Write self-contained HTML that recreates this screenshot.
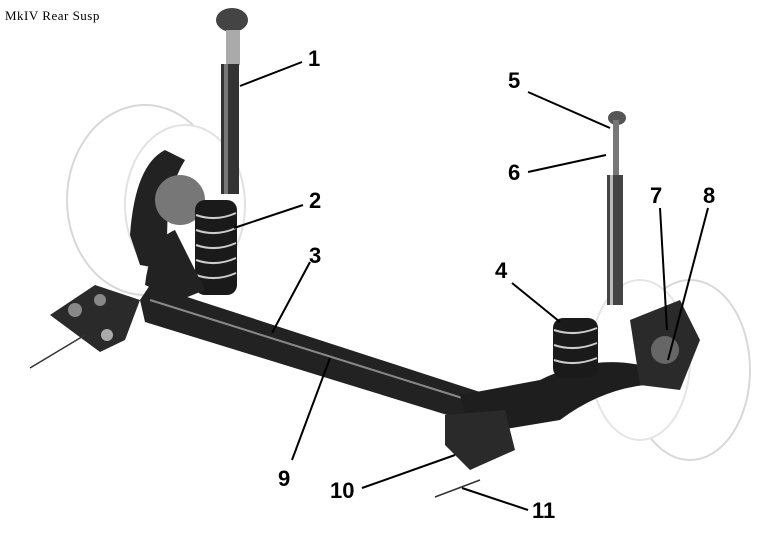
<!DOCTYPE html>
<html><head><style>
body{margin:0;background:#fff;width:769px;height:552px;overflow:hidden}
svg{display:block}
.n{font-family:"Liberation Sans",sans-serif;font-weight:bold;font-size:22px;fill:#000}
</style></head><body>
<svg width="769" height="552" viewBox="0 0 769 552">
<text x="5" y="20" font-family="Liberation Serif" font-size="13" fill="#000" letter-spacing="0.5">MkIV Rear Susp</text>
<!-- wheels -->
<ellipse cx="145" cy="200" rx="78" ry="95" fill="#fff" stroke="#d8d8d8" stroke-width="2"/>
<ellipse cx="185" cy="205" rx="60" ry="80" fill="#fff" stroke="#e2e2e2" stroke-width="2"/>
<ellipse cx="690" cy="370" rx="60" ry="90" fill="#fff" stroke="#d8d8d8" stroke-width="2"/>
<ellipse cx="640" cy="360" rx="50" ry="80" fill="#fff" stroke="#e5e5e5" stroke-width="2"/>
<!-- left hub/backplate -->
<path d="M130,235 Q135,165 165,150 L185,160 Q160,200 170,270 L140,265 Z" fill="#222"/>
<ellipse cx="180" cy="200" rx="25" ry="25" fill="#777"/>
<!-- left shock -->
<ellipse cx="232" cy="20" rx="16" ry="12" fill="#444"/>
<rect x="226" y="30" width="14" height="35" fill="#aaa"/>
<rect x="221" y="64" width="18" height="130" fill="#333"/>
<rect x="224" y="64" width="4" height="130" fill="#777"/>
<!-- left spring -->
<rect x="195" y="200" width="42" height="95" rx="10" fill="#1a1a1a"/>
<g stroke="#ccc" stroke-width="2" fill="none">
<path d="M196,215 Q216,222 236,213"/><path d="M196,230 Q216,237 236,228"/><path d="M196,245 Q216,252 236,243"/><path d="M196,260 Q216,267 236,258"/><path d="M196,275 Q216,282 236,273"/>
</g>
<!-- left arm -->
<path d="M145,285 Q150,240 175,230 L205,290 L180,300 Z" fill="#222"/>
<path d="M50,315 L95,285 L140,300 L125,340 L100,352 Z" fill="#2a2a2a"/>
<circle cx="75" cy="310" r="7" fill="#888"/><circle cx="100" cy="300" r="6" fill="#888"/><circle cx="107" cy="335" r="6" fill="#aaa"/>
<path d="M30,368 L85,335" stroke="#333" stroke-width="1.5"/>
<!-- beam -->
<path d="M140,300 L150,285 L480,392 L470,422 L145,322 Z" fill="#222"/>
<path d="M150,300 L475,402" stroke="#888" stroke-width="2"/>
<!-- right arm -->
<path d="M460,395 L540,380 Q590,355 640,365 L645,385 Q600,390 560,420 L470,435 Z" fill="#1e1e1e"/>
<path d="M445,415 L505,410 L515,450 L470,470 L445,445 Z" fill="#2a2a2a"/>
<path d="M435,497 L480,480" stroke="#333" stroke-width="1.5"/>
<!-- right spring -->
<rect x="553" y="318" width="45" height="60" rx="10" fill="#1a1a1a"/>
<g stroke="#ccc" stroke-width="2" fill="none">
<path d="M554,330 Q575,337 597,328"/><path d="M554,345 Q575,352 597,343"/><path d="M554,360 Q575,367 597,358"/>
</g>
<!-- right shock -->
<ellipse cx="617" cy="118" rx="9" ry="7" fill="#555"/>
<rect x="613" y="120" width="6" height="55" fill="#777"/>
<rect x="607" y="175" width="16" height="130" fill="#444"/>
<rect x="610" y="175" width="3" height="130" fill="#bbb"/>
<!-- right hub -->
<path d="M630,320 L680,300 L700,340 L680,390 L640,385 Z" fill="#2a2a2a"/>
<circle cx="665" cy="350" r="14" fill="#666"/>
<!-- leaders -->
<g stroke="#000" stroke-width="2">
<line x1="302" y1="62" x2="240" y2="86"/>
<line x1="303" y1="205" x2="234" y2="228"/>
<line x1="310" y1="262" x2="272" y2="333"/>
<line x1="512" y1="283" x2="560" y2="322"/>
<line x1="528" y1="92" x2="610" y2="128"/>
<line x1="528" y1="172" x2="606" y2="155"/>
<line x1="660" y1="208" x2="667" y2="330"/>
<line x1="708" y1="208" x2="668" y2="360"/>
<line x1="292" y1="460" x2="330" y2="358"/>
<line x1="362" y1="488" x2="455" y2="455"/>
<line x1="528" y1="510" x2="462" y2="488"/>
</g>
<text class="n" x="308" y="66">1</text>
<text class="n" x="309" y="208">2</text>
<text class="n" x="309" y="263">3</text>
<text class="n" x="495" y="278">4</text>
<text class="n" x="508" y="88">5</text>
<text class="n" x="508" y="180">6</text>
<text class="n" x="650" y="203">7</text>
<text class="n" x="703" y="203">8</text>
<text class="n" x="278" y="486">9</text>
<text class="n" x="330" y="498">10</text>
<text class="n" x="532" y="518">11</text>
</svg>
</body></html>
